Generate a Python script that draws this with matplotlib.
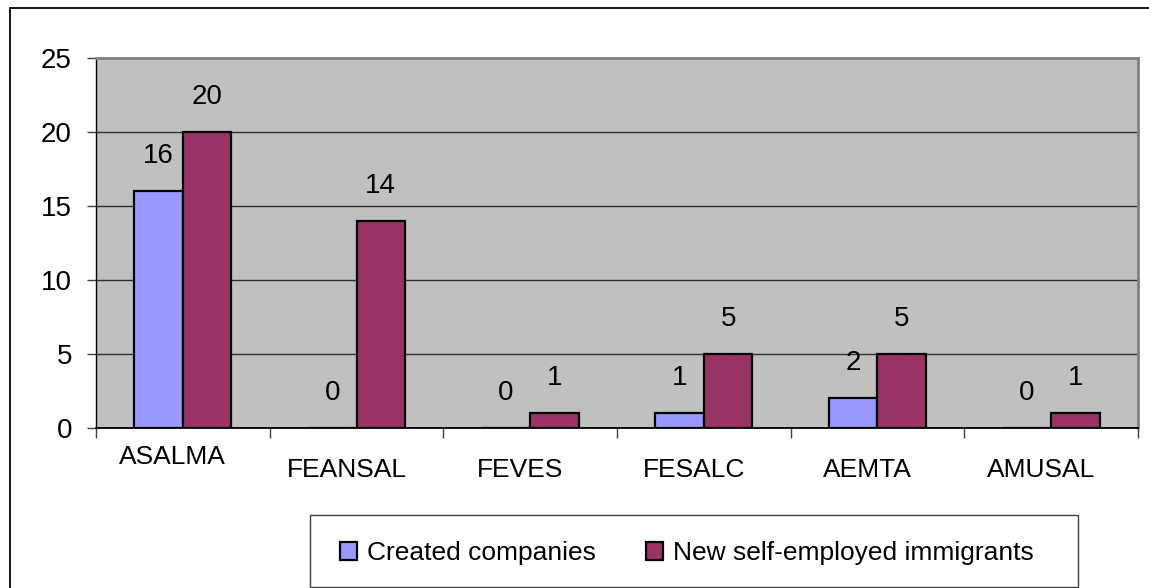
import matplotlib
matplotlib.use("Agg")
import matplotlib.pyplot as plt
from matplotlib.patches import Rectangle, Patch
import numpy as np

categories = ["ASALMA", "FEANSAL", "FEVES", "FESALC", "AEMTA", "AMUSAL"]
created_companies = [16, 0, 0, 1, 2, 0]
new_self_employed = [20, 14, 1, 5, 5, 1]
series_names = ["Created companies", "New self-employed immigrants"]
yticks = [0, 5, 10, 15, 20, 25]

plt.rcParams['font.family'] = ['Liberation Sans', 'DejaVu Sans']

W, H = 1149, 588
PX = 72 / 100  # points per pixel
fig = plt.figure(figsize=(W / 100, H / 100), dpi=100)

# outer chart border (right and bottom run off the image)
fig.patches.append(Rectangle((10 / W, -0.05), 1.1, (H - 8) / H + 0.05,
                             transform=fig.transFigure, fill=False,
                             edgecolor='black', linewidth=1.3))

ax = fig.add_axes([96 / W, 1 - 428 / H, (1138 - 96) / W, (428 - 58) / H])
ax.set_facecolor('#C0C0C0')

x = np.arange(len(categories))
bw = 0.28
c1, c2 = '#9999FF', '#993366'
ax.bar(x - bw / 2, created_companies, bw, color=c1, edgecolor='black', linewidth=1.6, zorder=3)
ax.bar(x + bw / 2, new_self_employed, bw, color=c2, edgecolor='black', linewidth=1.6, zorder=3)

for xs, vals in ((x - bw / 2, created_companies), (x + bw / 2, new_self_employed)):
    for xi, v in zip(xs, vals):
        ax.annotate(str(v), (xi, v), xytext=(0, 35 * PX), textcoords='offset points',
                    ha='center', va='center', fontsize=20)

ax.set_xlim(-0.5, len(categories) - 0.5)
ax.set_ylim(0, 25)
ax.set_yticks(yticks)
ax.set_yticklabels([str(t) for t in yticks], fontsize=20)
ax.yaxis.grid(True, color='#303030', linewidth=1.0, zorder=1)
ax.set_axisbelow(True)
ax.tick_params(axis='y', length=9 * PX, width=1, color='#404040', pad=15 * PX)

ax.set_xticks(np.arange(len(categories) + 1) - 0.5)
ax.set_xticklabels([])
ax.tick_params(axis='x', length=10 * PX, width=1, color='#404040')

for i, cat in enumerate(categories):
    off = -29 if i == 0 else -42
    ax.annotate(cat, (i, 0), xycoords=('data', 'axes fraction'),
                xytext=(-10 * PX, off * PX),
                textcoords='offset points', ha='center', va='center', fontsize=19)

for s in ['top', 'right']:
    ax.spines[s].set_color('#808080')
    ax.spines[s].set_linewidth(2.0)
ax.spines['left'].set_color('black')
ax.spines['left'].set_linewidth(1.0)
ax.spines['bottom'].set_color('black')
ax.spines['bottom'].set_linewidth(1.3)

# legend box
lx0, lx1, ly0, ly1 = 310, 1078, 515, 587
fig.patches.append(Rectangle((lx0 / W, 1 - ly1 / H), (lx1 - lx0) / W, (ly1 - ly0) / H,
                             transform=fig.transFigure, fill=False,
                             edgecolor='#404040', linewidth=1.0))
handles = [Patch(facecolor=c1, edgecolor='black', linewidth=1.6),
           Patch(facecolor=c2, edgecolor='black', linewidth=1.6)]
fig.legend(handles, series_names, loc='center', ncol=2, frameon=False,
           bbox_to_anchor=(687 / W, 1 - 553 / H),
           fontsize=19, handlelength=0.65, handleheight=0.65, handletextpad=0.38,
           columnspacing=1.9)

fig.savefig('out.png', dpi=100)
